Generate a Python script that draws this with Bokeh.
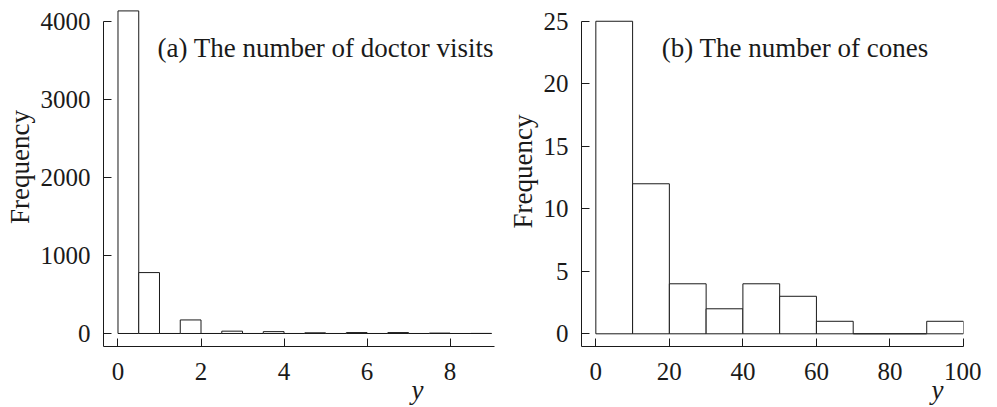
from bokeh.plotting import figure
from bokeh.layouts import row
from bokeh.models import Title, FixedTicker, ColumnDataSource, Label
from bokeh.embed import file_html
from bokeh.resources import INLINE

# ---- data ----
visits_breaks = [0, 0.5, 1, 1.5, 2, 2.5, 3, 3.5, 4, 4.5, 5, 5.5, 6, 6.5, 7, 7.5, 8, 8.5, 9]
visits_counts = [4141, 782, 0, 174, 0, 30, 0, 24, 0, 9, 0, 12, 0, 12, 0, 5, 0, 1]
visits_xticks = [0, 2, 4, 6, 8]
visits_yticks = [0, 1000, 2000, 3000, 4000]

cones_breaks = [0, 10, 20, 30, 40, 50, 60, 70, 80, 90, 100]
cones_counts = [25, 12, 4, 2, 4, 3, 1, 0, 0, 1]
cones_xticks = [0, 20, 40, 60, 80, 100]
cones_yticks = [0, 5, 10, 15, 20, 25]

FONT = "Liberation Serif"
INK = "#1a1a1a"


def make_panel(breaks, counts, xticks, yticks, x_range, y_range, width,
               min_left, min_right, title, title_xy, ylab_off, xlab_off):
    p = figure(width=width, height=420, x_range=x_range, y_range=y_range,
               output_backend="svg", toolbar_location=None,
               min_border_left=min_left, min_border_right=min_right,
               min_border_top=8, min_border_bottom=74)
    p.outline_line_color = None
    p.grid.visible = False
    p.background_fill_color = "white"
    p.border_fill_color = "white"

    src = ColumnDataSource(dict(left=breaks[:-1], right=breaks[1:],
                                top=counts, bottom=[0] * len(counts)))
    p.quad(left="left", right="right", top="top", bottom="bottom", source=src,
           fill_color="white", line_color=INK, line_width=1)

    p.xaxis.ticker = FixedTicker(ticks=xticks)
    p.yaxis.ticker = FixedTicker(ticks=yticks)
    p.yaxis.bounds = (y_range[0], yticks[-1])
    for ax in (p.xaxis[0], p.yaxis[0]):
        ax.axis_line_color = INK
        ax.axis_line_width = 1
        ax.major_tick_line_color = INK
        ax.major_tick_in = 8
        ax.major_tick_out = 0
        ax.minor_tick_line_color = None
        ax.major_label_text_font = FONT
        ax.major_label_text_font_size = "25px"
        ax.major_label_text_color = INK
    p.xaxis.major_label_standoff = 16
    p.yaxis.major_label_standoff = 13

    p.add_layout(Title(text="Frequency", align="left", offset=ylab_off,
                       text_font=FONT, text_font_size="27px",
                       text_font_style="normal", text_color=INK,
                       standoff=5), "left")
    p.add_layout(Title(text="y", align="right", offset=xlab_off,
                       text_font=FONT, text_font_size="27px",
                       text_font_style="italic", text_color=INK,
                       standoff=-20), "below")

    p.add_layout(Label(x=title_xy[0], y=title_xy[1], text=title,
                       text_font=FONT, text_font_size="27px",
                       text_color=INK, text_baseline="alphabetic",
                       text_align="left"))
    return p


p1 = make_panel(visits_breaks, visits_counts, visits_xticks, visits_yticks,
                (-0.349, 9.07), (-166.9, 4172), 497, 97, 3,
                "(a) The number of doctor visits", (0.95, 3666), 122.5, 71)
p2 = make_panel(cones_breaks, cones_counts, cones_xticks, cones_yticks,
                (-3.9, 100), (-1.016, 26.02), 484, 84, 18,
                "(b) The number of cones", (17.95, 22.9), 118, 20)

layout = row(p1, p2)
open("out.html", "w").write(file_html(layout, INLINE))
